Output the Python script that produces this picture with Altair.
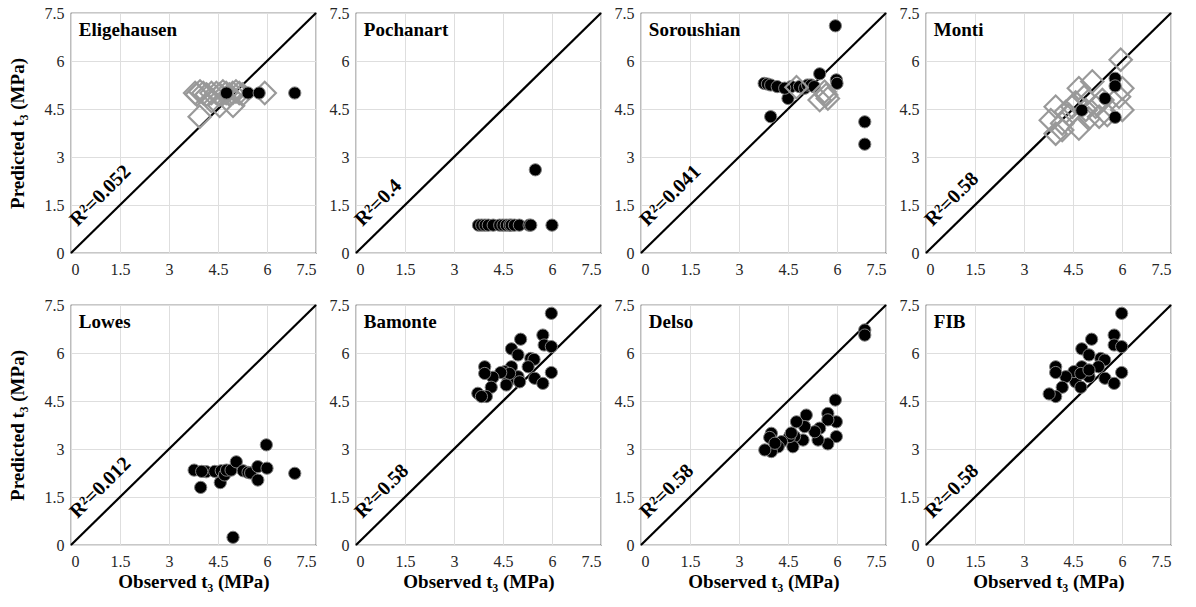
import altair as alt
import pandas as pd

FONT = "Liberation Serif"
TICKS = [0, 1.5, 3, 4.5, 6, 7.5]

NAMES = ["Eligehausen", "Pochanart", "Soroushian", "Monti",
         "Lowes", "Bamonte", "Delso", "FIB"]
R2 = ["R²=0.052", "R²=0.4", "R²=0.041", "R²=0.58",
      "R²=0.012", "R²=0.58", "R²=0.58", "R²=0.58"]

# ---- filled black circles (observed, predicted) ----
eli_cx = [4.76, 5.42, 5.76, 6.85]
eli_cy = [5.0, 5.0, 5.0, 5.0]
eli_dx = [3.8, 3.85, 3.95, 4.05, 4.15, 4.3, 4.45, 4.55, 4.65, 4.75, 4.85, 4.95,
          5.05, 5.15, 5.25, 5.93, 3.94, 4.55, 4.96, 4.3]
eli_dy = [5.0, 4.95, 5.05, 5.0, 4.95, 5.0, 5.0, 4.95, 5.05, 5.0, 4.95, 5.0,
          5.05, 5.0, 4.95, 5.0, 4.26, 4.6, 4.6, 4.75]

poc_cx = [3.75, 3.85, 3.95, 4.05, 4.2, 4.4, 4.5, 4.6, 4.7, 4.75, 4.85, 5.0,
          5.3, 5.35, 6.0, 5.49]
poc_cy = [0.87, 0.87, 0.87, 0.87, 0.87, 0.87, 0.87, 0.87, 0.87, 0.87, 0.87, 0.87,
          0.87, 0.87, 0.87, 2.6]

sor_cx = [3.77, 3.87, 3.97, 4.17, 3.97, 4.5, 4.6, 4.4, 4.85, 5.01, 5.1, 5.21,
          5.3, 5.47, 5.95, 5.98, 6.0, 6.85, 6.85]
sor_cy = [5.30, 5.28, 5.25, 5.2, 4.26, 4.83, 5.2, 5.15, 5.2, 5.15, 5.25, 5.25,
          5.2, 5.6, 7.1, 5.41, 5.3, 4.1, 3.4]
sor_dx = [4.76, 5.47, 5.62, 5.72, 5.67]
sor_dy = [5.18, 4.78, 5.04, 4.83, 4.94]

mon_cx = [4.77, 5.48, 5.79, 5.79, 5.79]
mon_cy = [4.46, 4.83, 5.46, 5.22, 4.24]
mon_dx = [5.96, 4.68, 5.09, 4.84, 3.97, 3.82, 3.97, 4.17, 4.38, 4.68, 4.89, 5.19,
          5.40, 5.55, 6.01, 6.01, 5.91, 4.28, 4.48, 5.30, 4.17, 4.58, 4.98]
mon_dy = [6.04, 5.15, 5.36, 4.88, 4.57, 4.15, 3.73, 3.84, 4.31, 3.89, 4.47, 4.57,
          4.78, 4.31, 4.47, 5.15, 4.88, 4.41, 4.57, 4.26, 4.05, 4.7, 4.2]

low_cx = [3.77, 3.97, 4.14, 4.0, 4.4, 4.57, 4.6, 4.7, 4.76, 4.9, 5.06, 4.96,
          5.27, 5.42, 5.5, 5.72, 5.72, 5.98, 6.0, 6.85]
low_cy = [2.34, 1.80, 2.29, 2.3, 2.3, 1.95, 2.32, 2.19, 2.34, 2.34, 2.60, 0.24,
          2.32, 2.27, 2.25, 2.45, 2.03, 3.13, 2.4, 2.24]

bam_cx = [5.98, 5.72, 5.76, 5.98, 5.04, 4.76, 4.96, 5.35, 5.45, 5.27, 5.98, 5.47,
          5.72, 4.96, 4.76, 4.65, 4.55, 4.70, 4.43, 4.19, 4.14, 3.94, 3.94, 3.99,
          3.73, 3.84, 5.01, 4.6]
bam_cy = [7.24, 6.56, 6.25, 6.2, 6.43, 6.13, 5.94, 5.83, 5.8, 5.57, 5.39, 5.21,
          5.05, 5.26, 5.57, 5.1, 5.42, 5.36, 5.39, 5.24, 4.93, 5.57, 5.36, 4.64,
          4.74, 4.64, 5.1, 5.0]

del_cx = [6.85, 6.85, 5.95, 5.72, 5.98, 5.72, 5.98, 5.72, 5.47, 5.42, 5.32, 5.06,
          5.01, 4.96, 4.76, 4.70, 4.65, 4.55, 4.30, 4.20, 3.99, 3.94, 3.99, 3.79,
          4.10, 4.6]
del_cy = [6.72, 6.56, 4.53, 4.11, 3.85, 3.91, 3.39, 3.16, 3.65, 3.28, 3.54, 4.06,
          3.70, 3.28, 3.85, 3.39, 3.07, 3.39, 3.23, 3.07, 3.49, 3.36, 2.92, 2.97,
          3.18, 3.5]

fib_cx = [5.99, 5.76, 5.76, 5.99, 5.07, 4.77, 4.99, 5.35, 5.47, 5.28, 5.99, 5.48,
          5.76, 4.99, 4.77, 4.58, 4.53, 4.74, 4.28, 4.17, 3.97, 3.97, 3.97, 3.77,
          4.74, 4.99]
fib_cy = [7.24, 6.56, 6.25, 6.2, 6.43, 6.13, 5.94, 5.83, 5.78, 5.57, 5.39, 5.21,
          5.05, 5.26, 5.57, 5.1, 5.42, 5.36, 5.26, 4.93, 5.57, 5.39, 4.64, 4.72,
          4.93, 5.47]

CIRCLES = [(eli_cx, eli_cy), (poc_cx, poc_cy), (sor_cx, sor_cy), (mon_cx, mon_cy),
           (low_cx, low_cy), (bam_cx, bam_cy), (del_cx, del_cy), (fib_cx, fib_cy)]
DIAMONDS = {0: (eli_dx, eli_dy), 2: (sor_dx, sor_dy), 3: (mon_dx, mon_dy)}

XTITLE = "Observed t₃ (MPa)"
YTITLE = "Predicted t₃ (MPa)"


def make_panel(i):
    row, col = divmod(i, 4)
    sc = alt.Scale(domain=[0, 7.5], nice=False, zero=False)
    x_enc = alt.X("obs:Q", scale=sc,
                  axis=alt.Axis(values=TICKS, format=".2~g",
                                title=XTITLE if row == 1 else None))
    y_enc = alt.Y("pred:Q", scale=sc,
                  axis=alt.Axis(values=TICKS, format=".2~g",
                                title=YTITLE if col == 0 else None))

    line_df = pd.DataFrame({"obs": [0, 7.5], "pred": [0, 7.5]})
    diag = alt.Chart(line_df).mark_line(color="black", strokeWidth=2.2).encode(
        x=x_enc, y=y_enc)

    cx, cy = CIRCLES[i]
    circ = alt.Chart(pd.DataFrame({"obs": cx, "pred": cy})).mark_circle(
        size=150, color="black", stroke="#808080", strokeWidth=1, opacity=1
    ).encode(x=x_enc, y=y_enc)

    layers = [diag]
    if i in DIAMONDS:
        dx, dy = DIAMONDS[i]
        dia = alt.Chart(pd.DataFrame({"obs": dx, "pred": dy})).mark_point(
            shape="diamond", filled=False, size=500, strokeWidth=2.2,
            color="#999999", opacity=1
        ).encode(x=x_enc, y=y_enc)
        if i == 2:
            layers += [circ, dia]
        else:
            layers += [dia, circ]
    else:
        layers.append(circ)

    name_df = pd.DataFrame({"obs": [0.24], "pred": [6.97], "label": [NAMES[i]]})
    name = alt.Chart(name_df).mark_text(
        align="left", baseline="middle", font=FONT, fontSize=19,
        fontWeight="bold", color="black"
    ).encode(x=x_enc, y=y_enc, text="label:N")

    r2_df = pd.DataFrame({"obs": [0.5], "pred": [0.5], "label": [R2[i]]})
    r2 = alt.Chart(r2_df).mark_text(
        align="left", baseline="alphabetic", angle=315, dy=-14,
        font=FONT, fontSize=20, fontWeight="bold", color="black"
    ).encode(x=x_enc, y=y_enc, text="label:N")

    layers += [name, r2]
    return alt.layer(*layers).properties(width=245, height=240)


panels = [make_panel(i) for i in range(8)]

chart = alt.concat(
    *panels, columns=4, spacing={"row": 52, "column": 40}, bounds="flush"
).properties(
    padding={"left": 7, "top": 4, "right": 5, "bottom": 5},
    background="white"
).configure_view(
    stroke="#262626", strokeWidth=1.2, fill="white"
).configure_axis(
    labelFont=FONT, labelFontSize=16, labelColor="#262626",
    ticks=False, domain=False,
    grid=True, gridColor="#dedede", gridWidth=1,
    titleFont=FONT, titleFontSize=19, titleFontWeight="bold",
    titleColor="black"
).configure_axisX(
    labelPadding=8, titlePadding=3
).configure_axisY(
    labelPadding=7, titlePadding=17
)

chart.save("out.html", embed_options={"renderer": "svg", "actions": False})
